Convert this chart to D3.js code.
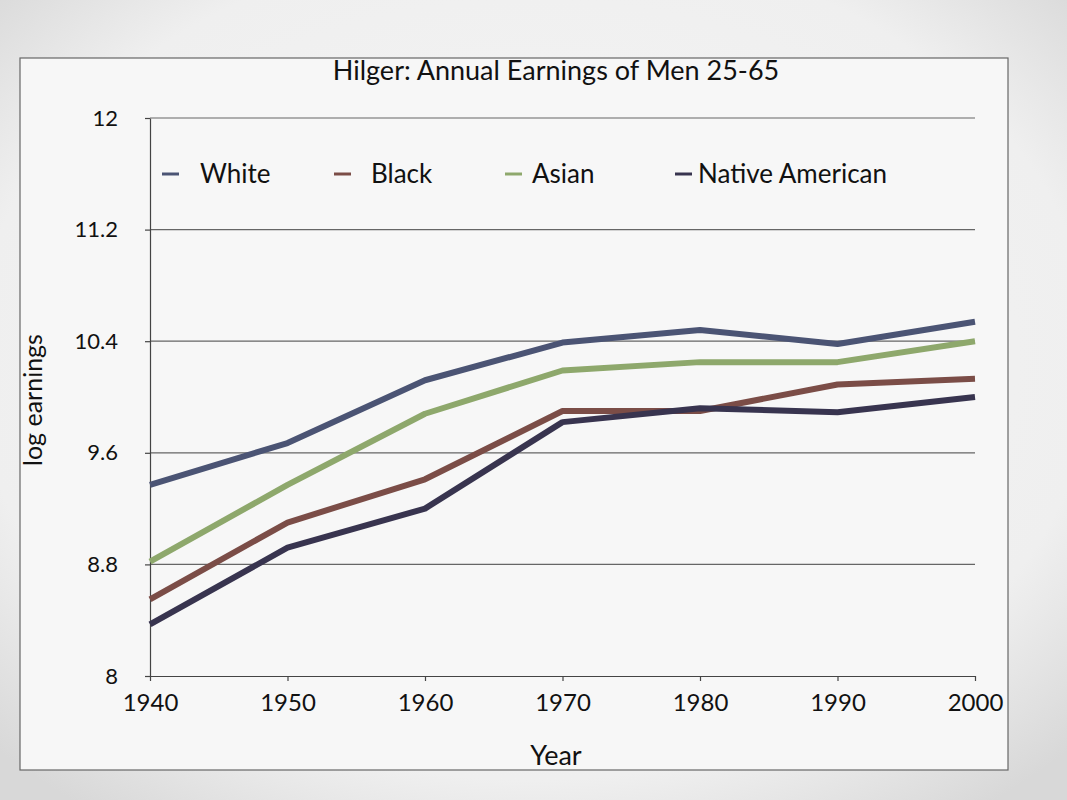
<!DOCTYPE html>
<html><head><meta charset="utf-8">
<script src="https://cdn.jsdelivr.net/npm/d3@7"></script>
<style>
html,body{margin:0;padding:0;background:#f3f3f3;}
svg{display:block;}
svg text{font-family:Lato,"Open Sans",sans-serif;}
</style></head>
<body><svg id="c" width="1067" height="800"></svg>
<script>
const years = [1940,1950,1960,1970,1980,1990,2000];
const white = [9.37,9.67,10.12,10.39,10.48,10.38,10.54];
const black = [8.55,9.10,9.41,9.90,9.90,10.09,10.13];
const asian = [8.82,9.37,9.88,10.19,10.25,10.25,10.40];
const nativeAm = [8.37,8.92,9.20,9.82,9.92,9.89,10.00];
const yTicks = [8,8.8,9.6,10.4,11.2,12];
const seriesNames = ["White","Black","Asian","Native American"];
const seriesColors = ["#4b5474","#7b4d47","#8ea86c","#38344f"];
const seriesData = [white,black,asian,nativeAm];

const svg = d3.select("#c");
const defs = svg.append("defs");
const rg = defs.append("radialGradient").attr("id","bg").attr("cx","50%").attr("cy","45%").attr("r","70%");
rg.append("stop").attr("offset","0%").attr("stop-color","#f6f6f6");
rg.append("stop").attr("offset","75%").attr("stop-color","#efefef");
rg.append("stop").attr("offset","100%").attr("stop-color","#d8d8d8");
svg.append("rect").attr("width",1067).attr("height",800).attr("fill","url(#bg)");
svg.append("rect").attr("x",20).attr("y",58).attr("width",988).attr("height",712)
  .attr("fill","#f7f7f7").attr("stroke","#666").attr("stroke-width",1.2);

const x = d3.scaleLinear().domain([1940,2000]).range([150,975]);
const y = d3.scaleLinear().domain([8,12]).range([676,118]);

svg.append("g").selectAll("line").data(yTicks.filter(d=>d>8)).join("line")
  .attr("x1",150).attr("x2",975).attr("y1",d=>y(d)).attr("y2",d=>y(d))
  .attr("stroke","#666").attr("stroke-width",1.2);

const yAxis = d3.axisLeft(y).tickValues(yTicks).tickSize(5).tickSizeOuter(0)
  .tickFormat(d=>d3.format("")(d));
const gy = svg.append("g").attr("transform","translate(150,0)").call(yAxis);
gy.attr("font-family",null);
gy.selectAll("text").attr("font-size",22).attr("fill","#111").attr("x",-32);
gy.selectAll("line,path").attr("stroke","#444").attr("stroke-width",1.2);

const xAxis = d3.axisBottom(x).tickValues(years).tickSize(5).tickSizeOuter(0).tickFormat(d3.format("d"));
const gx = svg.append("g").attr("transform","translate(0,676)").call(xAxis);
gx.attr("font-family",null);
gx.selectAll("text").attr("font-size",24).attr("fill","#111").attr("y",16).attr("dy","0.8em");
gx.selectAll("line,path").attr("stroke","#444").attr("stroke-width",1.2);

const line = d3.line().x((d,i)=>x(years[i])).y(d=>y(d));
seriesData.forEach((s,i)=>{
  svg.append("path").datum(s).attr("d",line).attr("fill","none")
    .attr("stroke",seriesColors[i]).attr("stroke-width",6).attr("stroke-linejoin","round");
});

const legDash = [162,334,505,675];
const legText = [200,371,532,698];
seriesNames.forEach((n,i)=>{
  svg.append("line").attr("x1",legDash[i]).attr("x2",legDash[i]+17).attr("y1",174).attr("y2",174)
    .attr("stroke",seriesColors[i]).attr("stroke-width",3);
  svg.append("text").attr("x",legText[i]).attr("y",183).attr("font-size",26).attr("fill","#111").text(n);
});

svg.append("text").attr("x",556).attr("y",80).attr("text-anchor","middle").attr("font-size",27).attr("fill","#111")
  .text("Hilger: Annual Earnings of Men 25-65");
svg.append("text").attr("x",556).attr("y",765).attr("text-anchor","middle").attr("font-size",27).attr("fill","#111").text("Year");
svg.append("text").attr("transform","translate(42,400) rotate(-90)").attr("text-anchor","middle")
  .attr("font-size",25).attr("fill","#111").text("log earnings");
</script></body></html>
